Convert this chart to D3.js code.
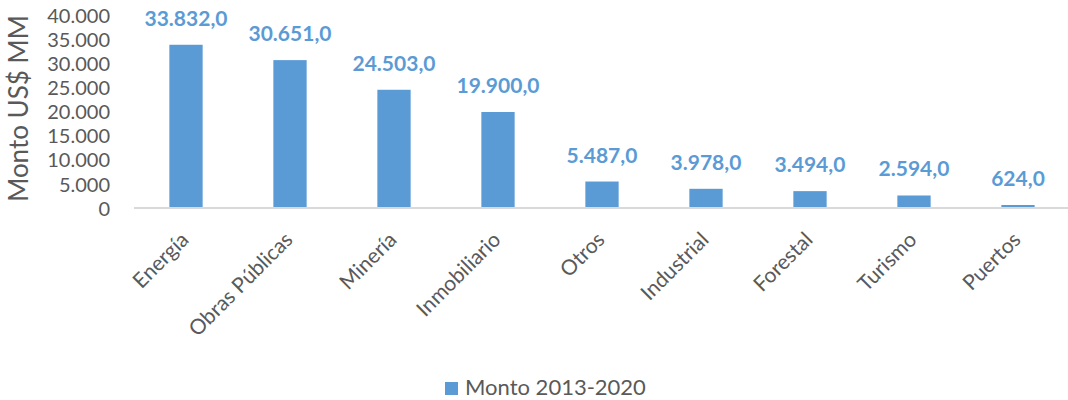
<!DOCTYPE html>
<html lang="es">
<head>
<meta charset="UTF-8">
<title>Monto por sector</title>
<script src="https://cdn.jsdelivr.net/npm/d3@7"></script>
<style>
  body { margin: 0; background: #fff; }
  text { font-family: Lato, "Open Sans", sans-serif; }
</style>
</head>
<body>
<script>
// datos
var categories = ["Energía", "Obras Públicas", "Minería", "Inmobiliario", "Otros", "Industrial", "Forestal", "Turismo", "Puertos"];
var montos = [33832, 30651, 24503, 19900, 5487, 3978, 3494, 2594, 624];
var yTicks = [0, 5000, 10000, 15000, 20000, 25000, 30000, 35000, 40000];
var seriesName = "Monto 2013-2020";
var yTitle = "Monto US$ MM";

var W = 1068, H = 400;
var plot = {left: 134, right: 1070, top: 15, bottom: 208};
var azul = "#5b9bd5", gris = "#595959";

// numeros con formato chileno: 33.832,0
var es = d3.formatLocale({decimal: ",", thousands: ".", grouping: [3], currency: ["$", ""]});
var fmtTick = es.format(",.0f");
var fmtVal = es.format(",.1f");

var svg = d3.select("body").append("svg")
    .attr("width", W)
    .attr("height", H);

var x = d3.scaleBand()
    .domain(categories)
    .range([plot.left, plot.right])
    .paddingInner(0.68)
    .paddingOuter(0.34);

var y = d3.scaleLinear()
    .domain([0, 40000])
    .range([plot.bottom, plot.top]);

// eje Y sin linea, solo etiquetas
var yAxis = svg.append("g")
    .attr("transform", "translate(" + (plot.left - 24) + ",0)")
    .call(d3.axisLeft(y).tickValues(yTicks).tickFormat(fmtTick).tickSize(0).tickPadding(0));
yAxis.select(".domain").remove();
yAxis.selectAll("text")
    .attr("fill", gris)
    .style("font-size", "20px")
    .attr("dy", "0.36em");

// titulo eje Y
svg.append("text")
    .attr("transform", "translate(28," + ((plot.top + plot.bottom) / 2 - 3) + ") rotate(-90)")
    .attr("text-anchor", "middle")
    .attr("fill", gris)
    .style("font-size", "26px")
    .text(yTitle);

// barras
svg.selectAll(".bar")
    .data(montos)
    .enter()
    .append("rect")
    .attr("class", "bar")
    .attr("x", function (d, i) { return x(categories[i]); })
    .attr("y", function (d) { return y(d); })
    .attr("width", x.bandwidth())
    .attr("height", function (d) { return y(0) - y(d); })
    .attr("fill", azul);

// etiquetas de valor
svg.selectAll(".lbl")
    .data(montos)
    .enter()
    .append("text")
    .attr("class", "lbl")
    .attr("x", function (d, i) { return x(categories[i]) + x.bandwidth() / 2; })
    .attr("y", function (d) { return y(d) - 19; })
    .attr("text-anchor", "middle")
    .attr("fill", azul)
    .style("font-size", "21px")
    .style("font-weight", "bold")
    .text(function (d) { return fmtVal(d); });

// eje X
var xAxis = svg.append("g")
    .attr("transform", "translate(0," + plot.bottom + ")")
    .call(d3.axisBottom(x).tickSize(0).tickPadding(0));
xAxis.select(".domain")
    .attr("stroke", "#d9d9d9")
    .attr("stroke-width", 2)
    .attr("d", "M" + plot.left + ",0H" + (plot.right - 2));
xAxis.selectAll("text")
    .attr("fill", gris)
    .style("font-size", "21px")
    .attr("text-anchor", "end")
    .attr("dy", null)
    .attr("transform", "translate(4,33) rotate(-45)");

// leyenda
var leg = svg.append("g").attr("transform", "translate(445,382)");
leg.append("rect").attr("width", 13).attr("height", 13).attr("fill", azul);
leg.append("text")
    .attr("x", 20)
    .attr("y", 13)
    .attr("fill", gris)
    .style("font-size", "22px")
    .text(seriesName);
</script>
</body>
</html>
